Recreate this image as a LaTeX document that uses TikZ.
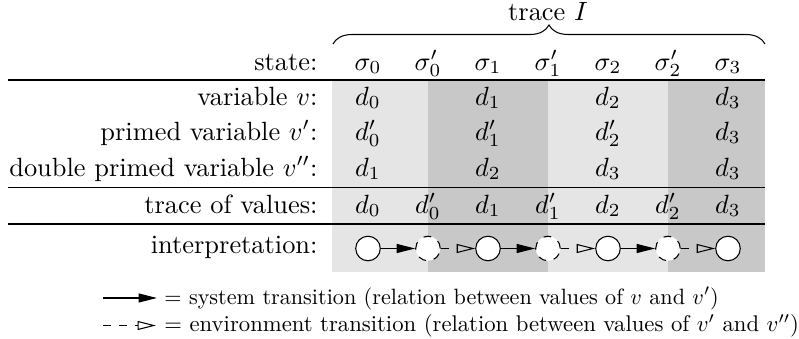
\documentclass[tikz,border=0pt]{standalone}
\usetikzlibrary{arrows.meta,decorations.pathreplacing}
\definecolor{lightsh}{RGB}{229,229,229}
\definecolor{darksh}{RGB}{200,200,200}
\begin{document}
\begin{tikzpicture}[x=0.379pt,y=-0.379pt,
  lbl/.style={anchor=base east,inner sep=0pt},
  cell/.style={anchor=base,inner sep=0pt},
  legtext/.style={anchor=base west,inner sep=0pt},
  rule/.style={line width=0.4pt},
  st/.style={circle,draw,fill=white,minimum size=9.3pt,inner sep=0pt,line width=0.4pt},
  stp/.style={st,dashed},
  sys/.style={line width=0.4pt,-{Triangle[length=7pt,width=3.4pt]}},
  env/.style={line width=0.4pt,dashed,-{Triangle[open,length=7pt,width=3.4pt]}}]
\useasboundingbox (0,0) rectangle (799,339);
% shading bands
\fill[lightsh] (332,80) rectangle (428,272);
\fill[darksh] (428,80) rectangle (548,272);
\fill[lightsh] (548,80) rectangle (668,272);
\fill[darksh] (668,80) rectangle (765,272);
% rules
\draw[rule] (8,80) -- (765,80);
\draw[rule] (8,187.5) -- (765,187.5);
\draw[rule] (8,224) -- (765,224);
% brace
\coordinate (bl) at (333,44);
\coordinate (br) at (765,44);
\draw[decorate,decoration={brace,amplitude=7.2pt},line width=0.4pt] (bl) -- (br);
\node[cell] (trace) at (548,20) {trace $I$};
% labels
\node[lbl] (l0) at (318,70) {state:};
\node[lbl] (l1) at (318,105) {variable $v$:};
\node[lbl] (l2) at (318,140) {primed variable $v'$:};
\node[lbl] (l3) at (318,176) {double primed variable $v''$:};
\node[lbl] (l4) at (318,213) {trace of values:};
\node[lbl] (l5) at (318,253) {interpretation:};
% state row
\node[cell] (s0) at (368,70) {$\sigma_0$};
\node[cell] (s0p) at (428,70) {$\sigma'_0$};
\node[cell] (s1) at (488,70) {$\sigma_1$};
\node[cell] (s1p) at (548,70) {$\sigma'_1$};
\node[cell] (s2) at (608,70) {$\sigma_2$};
\node[cell] (s2p) at (668,70) {$\sigma'_2$};
\node[cell] (s3) at (728,70) {$\sigma_3$};
% variable v
\node[cell] (a0) at (368,105) {$d_0$};
\node[cell] (a1) at (488,105) {$d_1$};
\node[cell] (a2) at (608,105) {$d_2$};
\node[cell] (a3) at (728,105) {$d_3$};
% primed
\node[cell] (b0) at (368,140) {$d'_0$};
\node[cell] (b1) at (488,140) {$d'_1$};
\node[cell] (b2) at (608,140) {$d'_2$};
\node[cell] (b3) at (728,140) {$d_3$};
% double primed
\node[cell] (e0) at (368,176) {$d_1$};
\node[cell] (e1) at (488,176) {$d_2$};
\node[cell] (e2) at (608,176) {$d_3$};
\node[cell] (e3) at (728,176) {$d_3$};
% trace of values
\node[cell] (t0) at (368,213) {$d_0$};
\node[cell] (t1) at (428,213) {$d'_0$};
\node[cell] (t2) at (488,213) {$d_1$};
\node[cell] (t3) at (548,213) {$d'_1$};
\node[cell] (t4) at (608,213) {$d_2$};
\node[cell] (t5) at (668,213) {$d'_2$};
\node[cell] (t6) at (728,213) {$d_3$};
% interpretation
\node[st] (c0) at (368,248.5) {};
\node[stp] (c1) at (428,248.5) {};
\node[st] (c2) at (488,248.5) {};
\node[stp] (c3) at (548,248.5) {};
\node[st] (c4) at (608,248.5) {};
\node[stp] (c5) at (668,248.5) {};
\node[st] (c6) at (728,248.5) {};
\draw[sys] (c0) -- (c1);
\draw[env] (c1) -- (c2);
\draw[sys] (c2) -- (c3);
\draw[env] (c3) -- (c4);
\draw[sys] (c4) -- (c5);
\draw[env] (c5) -- (c6);
% legend
\coordinate (la) at (103,298);
\coordinate (lb) at (157,298);
\coordinate (lc) at (103,325.5);
\coordinate (ld) at (156,325.5);
\draw[sys] (la) -- (lb);
\draw[env] (lc) -- (ld);
\node[legtext,scale=0.84] (g1) at (164,304) {$=$ system transition (relation between values of $v$ and $v'$)};
\node[legtext,scale=0.86] (g2) at (164,331.5) {$=$ environment transition (relation between values of $v'$ and $v''$)};
\end{tikzpicture}
\end{document}
